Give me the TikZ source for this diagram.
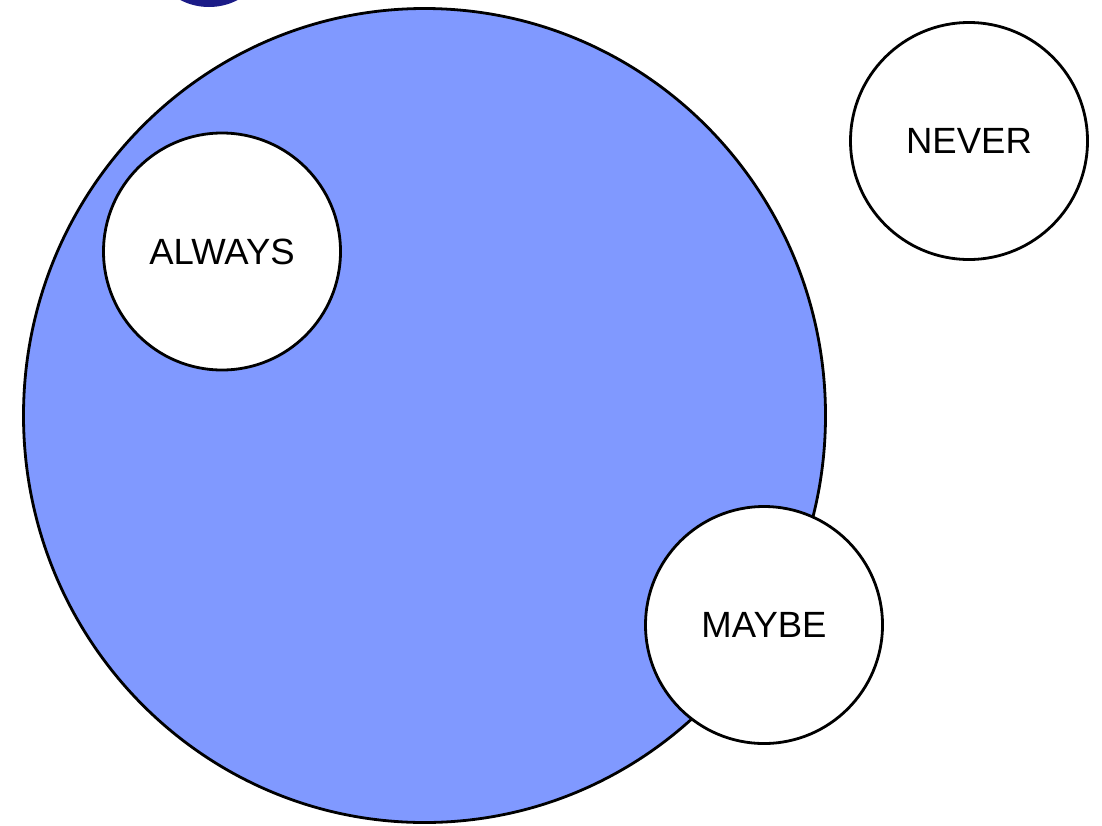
\documentclass[tikz,border=0pt]{standalone}
\usepackage{fontspec}
\setmainfont{Liberation Sans}
\definecolor{bigfill}{RGB}{128,153,255}
\definecolor{navy}{RGB}{27,27,135}
\begin{document}
\begin{tikzpicture}[x=1pt,y=-1pt,
  setcircle/.style={circle, draw=black, line width=2.8pt, fill=white, minimum size=237pt, inner sep=0pt, font=\fontsize{36.5}{42}\selectfont}]
\useasboundingbox (0,0) rectangle (1102,825);
\fill[navy] (209,-55) circle (62);
\draw[line width=2.8pt, fill=bigfill] (424.5,415.5) ellipse [x radius=401, y radius=407];
\node[setcircle] (always) at (222,251.5) {ALWAYS};
\node[setcircle] (never) at (969,141) {NEVER};
\node[setcircle] (maybe) at (764,625) {MAYBE};
\end{tikzpicture}
\end{document}
